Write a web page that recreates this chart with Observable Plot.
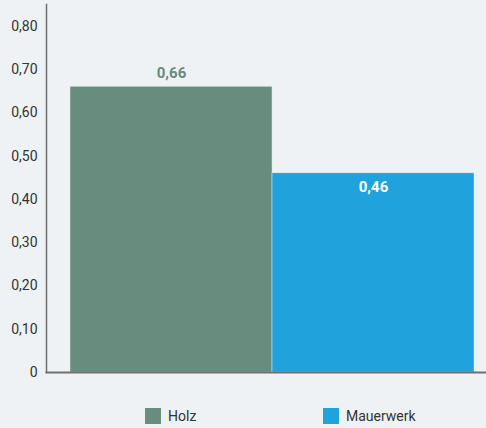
<!DOCTYPE html>
<html>
<head>
<meta charset="utf-8">
<script src="https://cdn.jsdelivr.net/npm/d3@7"></script>
<script src="https://cdn.jsdelivr.net/npm/@observablehq/plot@0.6"></script>
<style>
  html, body { margin: 0; padding: 0; background: #eef2f4; }
  #wrap { position: relative; width: 486px; height: 428px; font-family: Roboto, "Noto Sans", sans-serif; }
  #legend { position: absolute; left: 0; top: 408px; width: 486px; height: 18px; font-size: 14px; color: #333; }
  .item { position: absolute; top: 0; display: flex; align-items: center; }
  .sw { width: 16px; height: 16px; margin-right: 7px; }
</style>
</head>
<body>
<div id="wrap"></div>
<script>
const categories = ["Holz", "Mauerwerk"];
const values = [0.66, 0.46];
const colors = ["#688c7e", "#20a3dc"];
const yTicks = [0, 0.1, 0.2, 0.3, 0.4, 0.5, 0.6, 0.7, 0.8];

const data = categories.map((c, i) => ({category: c, value: values[i]}));
const fmt = d => d === 0 ? "0" : d.toFixed(2).replace(".", ",");

const chart = Plot.plot({
  width: 486,
  height: 395,
  marginLeft: 46,
  marginRight: 0,
  marginTop: 4,
  marginBottom: 23,
  style: {background: "transparent", fontFamily: "Roboto, 'Noto Sans', sans-serif", fontSize: "14px", color: "#333"},
  x: {domain: categories, range: [69, 474], padding: 0, axis: null},
  y: {domain: [0, 0.85], axis: null},
  color: {domain: categories, range: colors},
  marks: [
    Plot.barY(data, {x: "category", y: "value", fill: "category", stroke: "#dfe6e8", strokeWidth: 0.5}),
    Plot.axisY({ticks: yTicks, tickFormat: fmt, tickSize: 0, tickPadding: 9, fontSize: 14, fill: "#333", label: null}),
    Plot.frame({anchor: "left", stroke: "#6f6f6f", strokeWidth: 1.5}),
    Plot.frame({anchor: "bottom", stroke: "#6f6f6f", strokeWidth: 2}),
    Plot.text(data.filter(d => d.category === "Holz"), {x: "category", y: "value", text: d => fmt(d.value), dy: -14, fill: colors[0], fontWeight: "bold", fontSize: 15}),
    Plot.text(data.filter(d => d.category === "Mauerwerk"), {x: "category", y: "value", text: d => fmt(d.value), dy: 14, fill: "white", fontWeight: "bold", fontSize: 15})
  ]
});

const wrap = document.getElementById("wrap");
wrap.appendChild(chart);

const legend = document.createElement("div");
legend.id = "legend";
const lefts = [145, 323];
categories.forEach((c, i) => {
  const item = document.createElement("div");
  item.className = "item";
  item.style.left = lefts[i] + "px";
  const sw = document.createElement("div");
  sw.className = "sw";
  sw.style.background = colors[i];
  const label = document.createElement("span");
  label.textContent = c;
  item.appendChild(sw);
  item.appendChild(label);
  legend.appendChild(item);
});
wrap.appendChild(legend);
</script>
</body>
</html>
